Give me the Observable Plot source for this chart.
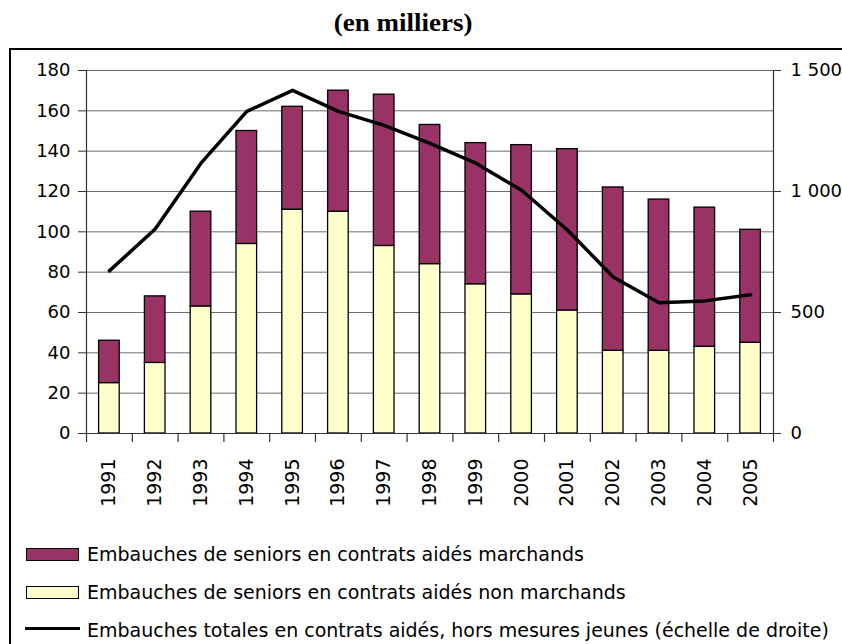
<!DOCTYPE html>
<html>
<head>
<meta charset="utf-8">
<script src="https://cdn.jsdelivr.net/npm/d3@7"></script>
<script src="https://cdn.jsdelivr.net/npm/@observablehq/plot@0.6"></script>
<style>
  html, body { margin: 0; padding: 0; background: #fff; overflow: hidden; }
  #page { position: relative; width: 842px; height: 644px; overflow: hidden; font-family: "DejaVu Sans", sans-serif; }
  #title { position: absolute; left: 0; width: 806px; top: 9px; text-align: center; font-family: "Liberation Serif", "Times New Roman", serif; font-weight: bold; font-size: 25px; line-height: 1.1; }
  #title span { display: inline-block; transform: scaleX(1.08); }
  #frame { position: absolute; left: 9px; top: 48px; width: 1000px; height: 800px; border: 2px solid #000; box-sizing: border-box; }
  #chart { position: absolute; left: 0; top: 49px; }
  .leg { position: absolute; left: 87px; font-size: 19px; white-space: nowrap; line-height: 1; }
  .box { position: absolute; left: 26px; width: 51px; height: 11px; border: 1.5px solid #000; }
  .lline { position: absolute; left: 25px; width: 55px; height: 3px; background: #000; }
</style>
</head>
<body>
<div id="page">
  <div id="frame"></div>
  <div id="title"><span></span></div>
  <div id="chart"></div>
  <div id="legend"></div>
</div>
<script>
const titleText = "(en milliers)";
const years = ["1991","1992","1993","1994","1995","1996","1997","1998","1999","2000","2001","2002","2003","2004","2005"];
// Embauches de seniors en contrats aidés non marchands (milliers, échelle de gauche)
const nonMarchands = [25, 35, 63, 94, 111, 110, 93, 84, 74, 69, 61, 41, 41, 43, 45];
// Embauches de seniors en contrats aidés marchands (milliers, échelle de gauche)
const marchands = [21, 33, 47, 56, 51, 60, 75, 69, 70, 74, 80, 81, 75, 69, 56];
// Embauches totales en contrats aidés, hors mesures jeunes (milliers, échelle de droite)
const totalAides = [672, 845, 1117, 1331, 1418, 1331, 1273, 1199, 1117, 1005, 841, 647, 540, 548, 573];

const leftTicks = [0, 20, 40, 60, 80, 100, 120, 140, 160, 180];
const rightTicks = [0, 500, 1000, 1500];
const rightTickLabels = ["0", "500", "1 000", "1 500"];
const seriesNames = [
  "Embauches de seniors en contrats aidés non marchands",
  "Embauches de seniors en contrats aidés marchands"
];
const seriesColors = ["#FFFFCC", "#993366"];
const legendLabels = [
  "Embauches de seniors en contrats aidés marchands",
  "Embauches de seniors en contrats aidés non marchands",
  "Embauches totales en contrats aidés, hors mesures jeunes (échelle de droite)"
];

const leftMax = 180, rightMax = 1500;
const toLeft = v => v * leftMax / rightMax;

const W = 842, mL = 86, mR = 69;
const step = (W - mL - mR) / years.length;

const barData = [];
years.forEach((y, i) => {
  barData.push({year: y, series: seriesNames[0], value: nonMarchands[i]});
  barData.push({year: y, series: seriesNames[1], value: marchands[i]});
});
const lineData = years.map((y, i) => ({year: y, total: totalAides[i]}));

document.querySelector("#title span").textContent = titleText;

const axisColor = "#333";
const chart = Plot.plot({
  width: W,
  height: 481,
  marginLeft: mL,
  marginRight: mR,
  marginTop: 21,
  marginBottom: 97,
  style: {fontFamily: "DejaVu Sans, sans-serif", fontSize: "18px", color: "#000", background: "transparent"},
  x: {type: "band", domain: years, paddingInner: 0.55, paddingOuter: 0.275, round: false, axis: null},
  y: {domain: [0, leftMax]},
  color: {domain: seriesNames, range: seriesColors},
  marks: [
    Plot.ruleY(leftTicks, {stroke: "#6e6e6e", strokeWidth: 1}),
    Plot.barY(barData, {x: "year", y: "value", fill: "series", stroke: "#000", strokeWidth: 1.3}),
    Plot.line(lineData, {x: "year", y: d => toLeft(d.total), stroke: "#000", strokeWidth: 3.5, strokeLinejoin: "round"}),
    // axis lines
    Plot.ruleX([years[0]], {x: d => d, dx: -step / 2, y1: 0, y2: leftMax, stroke: axisColor, strokeWidth: 1.2}),
    Plot.ruleX([years[years.length - 1]], {x: d => d, dx: step / 2, y1: 0, y2: leftMax, stroke: axisColor, strokeWidth: 1.2}),
    Plot.ruleY([0], {stroke: axisColor, strokeWidth: 1.2}),
    // category separators below the baseline
    Plot.ruleX(years, {x: d => d, dx: -step / 2, y1: 0, y2: 0, insetBottom: -9, stroke: axisColor, strokeWidth: 1.2}),
    Plot.ruleX([years[years.length - 1]], {x: d => d, dx: step / 2, y1: 0, y2: 0, insetBottom: -9, stroke: axisColor, strokeWidth: 1.2}),
    // x labels rotated
    Plot.text(years, {x: d => d, y: 0, text: d => d, rotate: -90, textAnchor: "end", lineAnchor: "middle", dy: 25, fontSize: 19}),
    Plot.axisY({anchor: "left", ticks: leftTicks, tickSize: 8, tickPadding: 8, stroke: axisColor, label: null, fontSize: 18}),
    Plot.axisY({anchor: "right", ticks: rightTicks.map(toLeft), tickFormat: (d, i) => rightTickLabels[i], tickSize: 7, tickPadding: 10, stroke: axisColor, label: null, fontSize: 18})
  ]
});
document.getElementById("chart").appendChild(chart);

// legend
const legend = document.getElementById("legend");
const rowBases = [561, 599, 637];
legendLabels.forEach((lab, i) => {
  const base = rowBases[i];
  if (i < 2) {
    const b = document.createElement("div");
    b.className = "box";
    b.style.top = (base - 13) + "px";
    b.style.background = i === 0 ? seriesColors[1] : seriesColors[0];
    legend.appendChild(b);
  } else {
    const l = document.createElement("div");
    l.className = "lline";
    l.style.top = (base - 10) + "px";
    legend.appendChild(l);
  }
  const t = document.createElement("div");
  t.className = "leg";
  t.textContent = lab;
  t.style.top = (base - 16) + "px";
  legend.appendChild(t);
});
</script>
</body>
</html>
